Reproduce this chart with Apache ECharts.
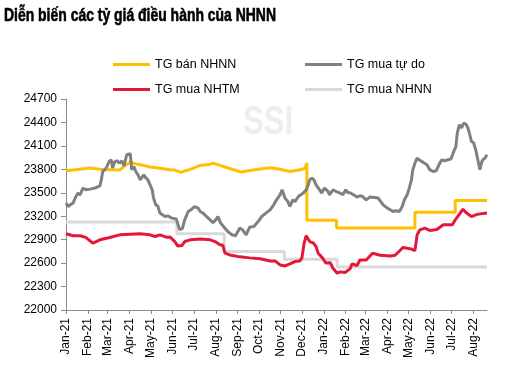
<!DOCTYPE html>
<html><head><meta charset="utf-8">
<script src="https://cdn.jsdelivr.net/npm/echarts@6/dist/echarts.min.js"></script>
<style>html,body{margin:0;padding:0;background:#fff}#c{width:532px;height:382px}</style>
</head><body><div id="c"></div>
<script>
// Month tick labels (x axis), starting Jan 2021
const monthLabels = ['Jan-21','Feb-21','Mar-21','Apr-21','May-21','Jun-21','Jul-21','Aug-21','Sep-21','Oct-21','Nov-21','Dec-21','Jan-22','Feb-22','Mar-22','Apr-22','May-22','Jun-22','Jul-22','Aug-22'];
// Y axis ticks
const yTicks = [22000,22300,22600,22900,23200,23500,23800,24100,24400,24700];

// TG mua tu do (days since 2021-01-01, value)
const freeDays = [0,3,6,10,13,17,20,24,28,34,41,48,50,52,55,58,61,64,66,69,72,76,79,82,86,91,92,93,96,99,102,105,107,110,113,116,119,122,124,127,130,133,140,144,150,156,158,161,165,168,173,178,182,187,190,194,198,204,208,212,215,219,223,229,235,240,246,250,255,257,260,266,272,277,283,289,294,298,303,306,310,314,317,321,324,329,331,336,340,343,345,348,351,354,356,359,362,366,371,373,378,382,388,392,396,399,403,407,412,416,420,425,430,437,442,444,449,455,459,463,467,472,476,479,483,486,489,491,494,497,500,502,507,511,515,520,524,528,532,536,540,545,549,552,554,557,560,563,566,569,571,574,577,580,583,586,588,590,593,596];
const freeVals = [23368,23324,23346,23368,23432,23496,23474,23560,23538,23547,23560,23589,23666,23773,23794,23837,23900,23922,23816,23897,23910,23880,23910,23845,23986,24000,23995,23794,23837,23769,23730,23666,23688,23730,23690,23666,23602,23538,23432,23346,23330,23240,23196,23205,23176,23165,23112,23026,23048,23154,23260,23290,23324,23304,23260,23240,23205,23154,23119,23154,23196,23112,23068,23004,22962,22950,23048,23026,22962,22985,23060,23068,23132,23196,23240,23282,23346,23410,23474,23538,23432,23388,23324,23410,23388,23452,23474,23496,23538,23602,23666,23688,23666,23602,23580,23538,23496,23560,23517,23474,23538,23517,23496,23474,23538,23503,23496,23474,23445,23462,23452,23410,23445,23440,23432,23420,23346,23304,23282,23260,23270,23260,23324,23410,23474,23560,23666,23794,23880,23944,23922,23944,23880,23858,23794,23773,23780,23858,23922,23910,23922,23931,24029,24093,24265,24371,24329,24393,24380,24329,24265,24157,24140,24051,23922,23794,23880,23922,23944,23986];

// TG ban NHNN
const sellDays = [0,13,34,48,62,76,84,91,98,105,119,133,147,154,163,168,176,190,204,208,218,232,248,260,275,289,303,317,331,338,341,341,383,383,494,494,551,551,596];
const sellVals = [23782,23795,23816,23800,23795,23790,23850,23890,23870,23860,23830,23815,23795,23790,23760,23780,23800,23850,23865,23880,23850,23810,23765,23785,23803,23820,23800,23773,23795,23810,23880,23150,23150,23050,23050,23250,23250,23400,23400];

// TG mua NHTM
const bankDays = [0,10,20,28,38,48,62,76,91,105,119,126,133,142,147,154,158,164,168,176,190,204,211,218,222,225,232,246,260,275,289,296,303,310,317,324,331,334,337,340,345,350,354,357,363,368,374,378,384,388,395,402,405,412,416,425,434,445,459,466,477,487,494,497,501,508,515,525,534,547,551,555,562,567,574,581,586,596];
const bankVals = [22975,22950,22950,22930,22855,22898,22927,22962,22970,22975,22962,22940,22962,22932,22935,22876,22820,22825,22876,22898,22910,22898,22876,22834,22830,22727,22705,22680,22667,22655,22628,22628,22577,22564,22590,22620,22628,22667,22850,22950,22876,22860,22812,22727,22667,22600,22605,22535,22471,22488,22480,22526,22590,22570,22640,22640,22727,22700,22690,22700,22800,22785,22760,22960,23026,23048,23017,23030,23090,23090,23154,23200,23290,23240,23196,23220,23230,23240];

// TG mua NHNN (step changes)
const sbvBuyDays = [0,157,224,309,384,596];
const sbvBuyVals = [23125,22975,22750,22650,22550,22550];

const day = d => new Date(2021, 0, 1 + d).getTime();
const pairs = (ds, vs) => ds.map((d, i) => [day(d), vs[i]]);
const monthTicks = monthLabels.map((_, i) => new Date(2021, i, 1).getTime());

const TITLE = 'Diễn biến các tỷ giá điều hành của NHNN';
const TITLE_FONT = "bold 19px 'Liberation Sans', Arial, sans-serif";
const SSI_FONT = "bold 40px 'Liberation Sans', Arial, sans-serif";
const ctx = document.createElement('canvas').getContext('2d');
ctx.font = TITLE_FONT; const titleScale = 272 / ctx.measureText(TITLE).width;
ctx.font = SSI_FONT; const ssiScale = 50 / ctx.measureText('SSI').width;

const FONT = "'Liberation Sans', Arial, sans-serif";
const chart = echarts.init(document.getElementById('c'), null, {renderer: 'canvas'});
chart.setOption({
  animation: false,
  backgroundColor: '#fff',
  graphic: [{
    type: 'text', x: 4, y: 6, scaleX: titleScale, z: 10,
    style: {text: TITLE, font: TITLE_FONT, fill: '#000', stroke: '#000', lineWidth: 0.6}
  }, {
    type: 'text', x: 243, y: 103, scaleX: ssiScale, z: 0,
    style: {text: 'SSI', font: SSI_FONT, fill: '#ededed'}
  }],
  legend: [{
    left: 108, top: 53, orient: 'vertical', itemGap: 12,
    itemWidth: 37, itemHeight: 3, icon: 'rect',
    textStyle: {fontFamily: FONT, fontSize: 12.5, color: '#000'},
    data: ['TG bán NHNN', 'TG mua NHTM']
  }, {
    left: 300, top: 53, orient: 'vertical', itemGap: 12,
    itemWidth: 37, itemHeight: 3, icon: 'rect',
    textStyle: {fontFamily: FONT, fontSize: 12.5, color: '#000'},
    data: ['TG mua tự do', 'TG mua NHNN']
  }],
  grid: {left: 66, right: 45, top: 99, bottom: 72, containLabel: false},
  xAxis: {
    type: 'value', min: day(0), max: day(596), scale: true,
    axisLine: {show: true, lineStyle: {color: '#8c8c8c', width: 1}},
    axisTick: {show: true, length: 4, lineStyle: {color: '#8c8c8c'}, customValues: monthTicks},
    splitLine: {show: false},
    axisLabel: {
      customValues: monthTicks, rotate: 90, margin: 8,
      fontFamily: FONT, fontSize: 12, color: '#000',
      formatter: v => { const d = new Date(v); return monthLabels[(d.getFullYear() - 2021) * 12 + d.getMonth()]; }
    }
  },
  yAxis: {
    type: 'value', min: 22000, max: 24700, interval: 300,
    axisLine: {show: true, lineStyle: {color: '#8c8c8c', width: 1}},
    axisTick: {show: true, length: 5, lineStyle: {color: '#8c8c8c'}},
    splitLine: {show: false},
    axisLabel: {margin: 9, fontFamily: FONT, fontSize: 12, color: '#000', formatter: v => String(v)}
  },
  series: [
    {name: 'TG mua NHNN', type: 'line', step: 'end', showSymbol: false, symbol: 'none', z: 2,
     data: pairs(sbvBuyDays, sbvBuyVals), lineStyle: {color: '#d9d9d9', width: 3}, itemStyle: {color: '#d9d9d9'}},
    {name: 'TG bán NHNN', type: 'line', showSymbol: false, symbol: 'none', z: 3,
     data: pairs(sellDays, sellVals), lineStyle: {color: '#ffc000', width: 3}, itemStyle: {color: '#ffc000'}},
    {name: 'TG mua tự do', type: 'line', showSymbol: false, symbol: 'none', z: 4,
     data: pairs(freeDays, freeVals), lineStyle: {color: '#808080', width: 3}, itemStyle: {color: '#808080'}},
    {name: 'TG mua NHTM', type: 'line', showSymbol: false, symbol: 'none', z: 5,
     data: pairs(bankDays, bankVals), lineStyle: {color: '#e31937', width: 3}, itemStyle: {color: '#e31937'}}
  ]
});
</script></body></html>
